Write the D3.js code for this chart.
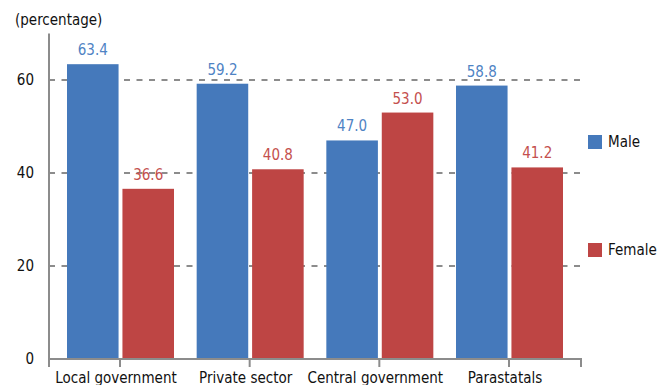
<!DOCTYPE html>
<html>
<head>
<meta charset="utf-8">
<script src="https://cdn.jsdelivr.net/npm/d3@7"></script>
<style>
  html, body { margin: 0; padding: 0; background: #fff; }
  svg text { font-family: "DejaVu Sans Condensed", "DejaVu Sans", sans-serif; font-stretch: condensed; }
</style>
</head>
<body>
<svg id="chart" width="657" height="385"></svg>
<script>
// Employment shares by sector and sex
const categories = ["Local government", "Private sector", "Central government", "Parastatals"];
const seriesNames = ["Male", "Female"];
const maleValues = [63.4, 59.2, 47.0, 58.8];
const femaleValues = [36.6, 40.8, 53.0, 41.2];
const yTicks = [0, 20, 40, 60];
const colors = ["#4579bb", "#be4544"];
const labelColors = ["#4f83c4", "#c4504e"];

const fontSize = 15;
const svg = d3.select("#chart");

const y = d3.scaleLinear().domain([0, 70]).range([359, 33.5]);
const x = d3.scalePoint().domain(categories).range([120, 509]);
const inner = d3.scaleBand().domain(seriesNames).range([-53, 54]).paddingInner(0.07);

const axisLeft = 49, axisRight = 581;

// dashed gridlines
svg.append("g").selectAll("line")
  .data(yTicks.filter(d => d > 0))
  .join("line")
  .attr("x1", axisLeft).attr("x2", axisRight)
  .attr("y1", d => y(d)).attr("y2", d => y(d))
  .attr("stroke", "#8c8c8c").attr("stroke-width", 2)
  .attr("stroke-dasharray", "6,6.5");

// y tick labels
svg.append("g").selectAll("text")
  .data(yTicks)
  .join("text")
  .attr("x", 34).attr("y", d => y(d))
  .attr("dy", "0.35em")
  .attr("text-anchor", "end")
  .attr("font-size", fontSize).attr("fill", "#111")
  .text(d => d);

// bars
const rows = categories.map((c, i) => ({ cat: c, vals: [maleValues[i], femaleValues[i]] }));
const groups = svg.append("g").selectAll("g")
  .data(rows)
  .join("g")
  .attr("transform", d => `translate(${x(d.cat)},0)`);

groups.selectAll("rect")
  .data(d => d.vals.map((v, j) => ({ s: seriesNames[j], v, j })))
  .join("rect")
  .attr("x", d => inner(d.s))
  .attr("width", inner.bandwidth())
  .attr("y", d => y(d.v))
  .attr("height", d => y(0) - y(d.v))
  .attr("fill", d => colors[d.j]);

groups.selectAll("text")
  .data(d => d.vals.map((v, j) => ({ s: seriesNames[j], v, j })))
  .join("text")
  .attr("x", d => inner(d.s) + inner.bandwidth() / 2)
  .attr("y", d => y(d.v) - 9)
  .attr("text-anchor", "middle")
  .attr("font-size", fontSize)
  .attr("fill", d => labelColors[d.j])
  .text(d => d.v.toFixed(1));

// axes lines
svg.append("line")
  .attr("x1", axisLeft).attr("x2", axisLeft)
  .attr("y1", y(70)).attr("y2", y(0) + 1)
  .attr("stroke", "#8c8c8c").attr("stroke-width", 2);
svg.append("line")
  .attr("x1", axisLeft - 1).attr("x2", axisRight + 1)
  .attr("y1", y(0)).attr("y2", y(0))
  .attr("stroke", "#8c8c8c").attr("stroke-width", 2);

// x ticks at the plot edges and group centres
const xTickPos = [axisLeft, ...categories.map(c => x(c)), axisRight];
svg.append("g").selectAll("line")
  .data(xTickPos)
  .join("line")
  .attr("x1", d => d).attr("x2", d => d)
  .attr("y1", y(0)).attr("y2", y(0) + 8)
  .attr("stroke", "#8c8c8c").attr("stroke-width", 2);

// category labels
svg.append("g").selectAll("text")
  .data(categories)
  .join("text")
  .attr("x", d => x(d) - 4)
  .attr("y", 383)
  .attr("text-anchor", "middle")
  .attr("font-size", fontSize).attr("fill", "#111")
  .text(d => d);

// axis title
svg.append("text")
  .attr("x", 15).attr("y", 25)
  .attr("font-size", fontSize).attr("fill", "#111")
  .text("(percentage)");

// legend
const legend = svg.append("g").selectAll("g")
  .data(seriesNames)
  .join("g")
  .attr("transform", (d, i) => `translate(588,${135 + i * 108})`);
legend.append("rect")
  .attr("width", 14).attr("height", 14)
  .attr("fill", (d, i) => colors[i]);
legend.append("text")
  .attr("x", 20).attr("y", 7).attr("dy", "0.35em")
  .attr("font-size", fontSize).attr("fill", "#111")
  .text(d => d);
</script>
</body>
</html>
